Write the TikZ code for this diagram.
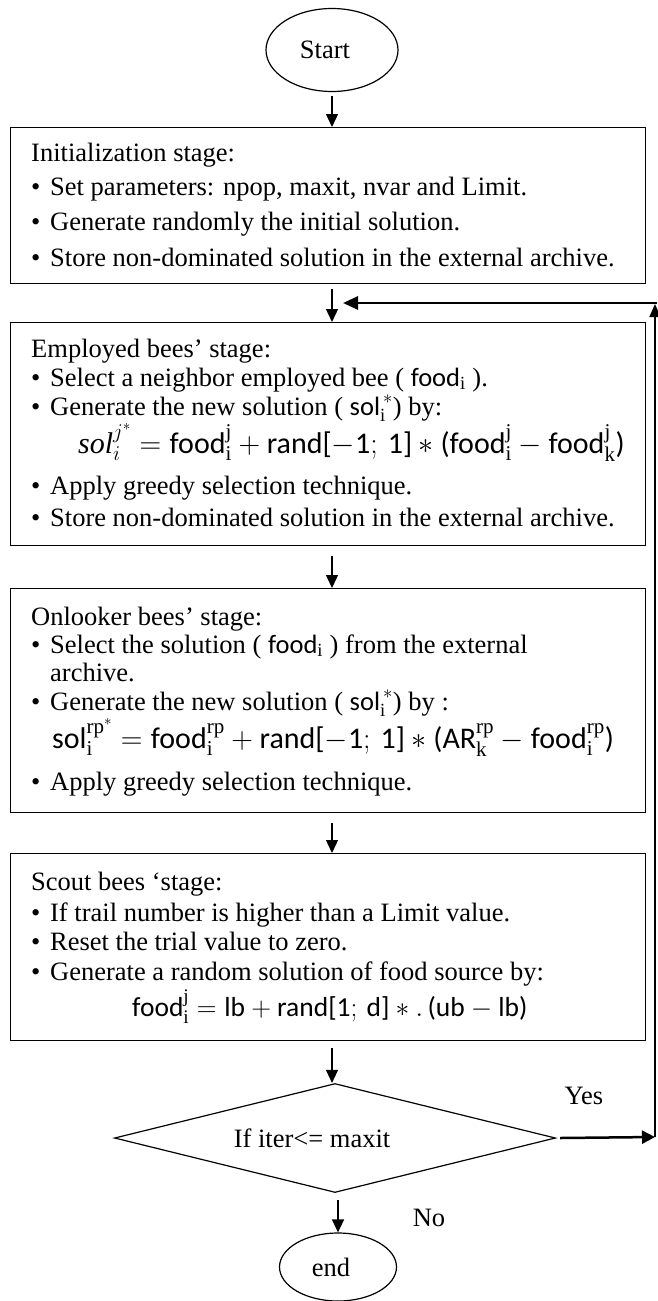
\RequirePackage{fix-cm}
\documentclass[tikz,border=0pt]{standalone}
\usepackage{amsmath}
\usepackage{fontspec}
\setmainfont{Liberation Serif}
\newfontfamily\cf{Carlito}
\usetikzlibrary{shapes.geometric,arrows.meta,calc}
\newcommand{\fw}[1]{\text{\cf #1}}
\newcommand{\bl}{\makebox[19pt][l]{\textbullet}}
\newcommand{\tsz}{\fontsize{26.5}{30}\selectfont}
\newcommand{\fsz}{\fontsize{30}{32}\selectfont}
\newcommand{\ssz}{\fontsize{27.5}{30}\selectfont}
\tikzset{
  box/.style={draw, line width=1.3pt, rectangle, inner sep=0pt, anchor=north west, minimum width=635pt},
  txt/.style={anchor=base west, inner sep=0pt, font=\tsz},
  frm/.style={anchor=base west, inner sep=0pt, font=\fsz},
  lbl/.style={inner sep=0pt, font=\tsz},
  term/.style={ellipse, draw, line width=1.2pt, inner sep=0pt, font=\tsz},
  arr/.style={line width=1.3pt, -{Triangle[length=13pt,width=12pt]}}
}
\begin{document}
\begin{tikzpicture}[x=1pt,y=-1pt]
\useasboundingbox (0,0) rectangle (657,1301);
% terminals
\node[term, minimum width=132pt, minimum height=83pt] (start) at (332,50) {Start\hspace*{14pt}};
% initialization
\node[box, minimum height=156pt] (init) at (10,127) {};
\node[txt] (init-h) at (31,161) {Initialization stage:};
\node[txt] (init-1) at (31,195) {\bl Set parameters: npop, maxit, nvar and Limit.};
\node[txt] (init-2) at (31,230) {\bl Generate randomly the initial solution.};
\node[txt] (init-3) at (31,266) {\bl Store non-dominated solution in the external archive.};
% employed
\node[box, minimum height=223pt] (emp) at (10,322) {};
\node[txt] (emp-h) at (31,357) {Employed bees’ stage:};
\node[txt] (emp-1) at (31,386) {\bl Select a neighbor employed bee ( $\smash{\fw{food}_{\mathrm{i}}}$ ).};
\node[txt] (emp-2) at (31,415) {\bl Generate the new solution ( $\smash{\fw{sol}_{\mathrm{i}}^{\,*}}$) by:};
\node[frm] (emp-f) at (78,453) {$\smash{\mathit{sol}_{i}^{j^{*}} = \fw{food}_{\mathrm{i}}^{\mathrm{j}} + \fw{rand[}{-}\fw{1};\,\fw{1]} * \fw{(food}_{\mathrm{i}}^{\mathrm{j}} - \fw{food}_{\mathrm{k}}^{\mathrm{j}}\fw{)}}$};
\node[txt] (emp-3) at (31,494) {\bl Apply greedy selection technique.};
\node[txt] (emp-4) at (31,526) {\bl Store non-dominated solution in the external archive.};
% onlooker
\node[box, minimum height=224pt] (onl) at (10,588) {};
\node[txt] (onl-h) at (31,625) {Onlooker bees’ stage:};
\node[txt] (onl-1) at (31,653) {\bl Select the solution ( $\smash{\fw{food}_{\mathrm{i}}}$ ) from the external};
\node[txt] (onl-1b) at (50,681) {archive.};
\node[txt] (onl-2) at (31,710) {\bl Generate the new solution ( $\smash{\fw{sol}_{\mathrm{i}}^{\,*}}$) by :};
\node[frm] (onl-f) at (52,748) {$\smash{\fw{sol}_{\mathrm{i}}^{\mathrm{rp}^{*}} = \fw{food}_{\mathrm{i}}^{\mathrm{rp}} + \fw{rand[}{-}\fw{1};\,\fw{1]} * \fw{(AR}_{\mathrm{k}}^{\mathrm{rp}} - \fw{food}_{\mathrm{i}}^{\mathrm{rp}}\fw{)}}$};
\node[txt] (onl-3) at (31,790) {\bl Apply greedy selection technique.};
% scout
\node[box, minimum height=187pt] (sct) at (10,853) {};
\node[txt] (sct-h) at (31,890) {Scout bees ‘stage:};
\node[txt] (sct-1) at (31,921) {\bl If trail number is higher than a Limit value.};
\node[txt] (sct-2) at (31,950) {\bl Reset the trial value to zero.};
\node[txt] (sct-3) at (31,980) {\bl Generate a random solution of food source by:};
\node[frm, font=\ssz] (sct-f) at (132,1016) {$\smash{\fw{food}_{\mathrm{i}}^{\mathrm{j}} = \fw{lb} + \fw{rand[1};\,\fw{d]} *.\,\fw{(ub} - \fw{lb)}}$};
% decision
\node[diamond, aspect=4.05, draw, line width=1.2pt, inner sep=0pt, minimum width=441pt, minimum height=109pt, font=\tsz] (dec) at (335,1138) {If iter<= maxit\hspace*{46pt}};
\node[term, minimum width=117pt, minimum height=68pt] (stop) at (338,1267) {end\hspace*{14pt}};
\node[lbl] (yes) at (584,1096) {Yes};
\node[lbl] (no) at (429,1218) {No};
% loop coordinates
\coordinate (yesend) at (655,1137);
\coordinate (looptop) at (655,304);
\coordinate (loopstart) at (657,303);
\coordinate (loopin) at (343,303);
% connectors
\draw[arr] ($(start.south)+(0,4)$) -- (start.south |- init.north);
\draw[arr] ($(init.south -| start.south)+(0,5)$) -- (emp.north -| start.south);
\draw[arr] ($(emp.south -| start.south)+(0,10)$) -- (onl.north -| start.south);
\draw[arr] ($(onl.south -| start.south)+(0,10)$) -- (sct.north -| start.south);
\draw[arr] ($(sct.south -| start.south)+(0,7)$) -- (start.south |- dec.north);
\draw[arr] ($(stop.north |- dec.south)+(0,7)$) -- (stop.north);
\draw[line width=2.5pt, -{Triangle[length=13pt,width=13pt]}] ($(dec.east)+(4,0)$) -- (yesend);
\draw[line width=1.7pt, -{Triangle[length=13pt,width=11pt]}] (yesend) -- (looptop);
\draw[line width=2.6pt, -{Triangle[length=15pt,width=13pt]}] (loopstart) -- (loopin);
\end{tikzpicture}
\end{document}
